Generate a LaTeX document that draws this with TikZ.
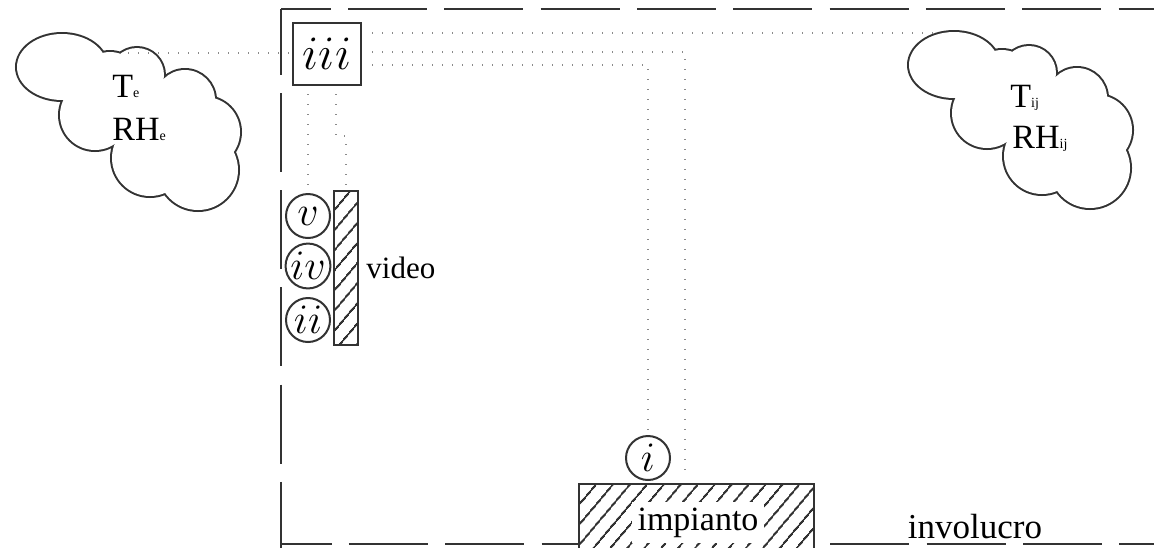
\documentclass[tikz,border=0pt]{standalone}
\usepackage{fix-cm}
\usepackage{fontspec}
\setmainfont{Liberation Serif}
\usetikzlibrary{patterns.meta}
\definecolor{ink}{HTML}{333333}
\definecolor{dotc}{HTML}{8A8A8A}
\newcommand\cloudlobes{62/67/45/33,137/75/27/27,185/100/30/30,205/132/35/35,198/170/40/40,150/158/38/38,95/115/35/35,145/115/40/40,110/82/30/30}
\newcommand\mycloud[2]{%
  \begin{scope}[shift={(#1,#2)}]
    \foreach \cx/\cy/\rx/\ry in \cloudlobes
      \draw[cloudline] (\cx,\cy) ellipse[x radius=\rx, y radius=\ry];
    \foreach \cx/\cy/\rx/\ry in \cloudlobes
      \fill[white] (\cx,\cy) ellipse[x radius=\rx, y radius=\ry];
  \end{scope}}
\begin{document}
\begin{tikzpicture}[x=0.5pt,y=-0.5pt,
  envl/.style={draw=ink, line width=1.4pt},
  dotline/.style={draw=dotc, line width=0.8pt, dash pattern=on 0.6pt off 4.4pt},
  cloudline/.style={draw=ink, line width=2pt},
  frame/.style={draw=ink, line width=1pt},
  hatch/.style={pattern={Lines[angle=50,distance=6.5pt,line width=1pt]}, pattern color=ink},
  roman/.style={font=\fontsize{17}{17}\selectfont, inner sep=0pt},
  ball/.style={circle, frame, minimum size=22pt, inner sep=0pt, font=\fontsize{21}{21}\selectfont},
]
\useasboundingbox (0,0) rectangle (1154,547);
\clip (0,0) rectangle (1154,547);
\fill[white] (0,0) rectangle (1154,547);

% envelope (involucro)
\draw[envl, dash pattern=on 39.5pt off 9.1pt, dash phase=6.6pt] (281,9) -- (281,560);
\draw[envl, dash pattern=on 39.5pt off 8.65pt, dash phase=14.6pt] (281,9) -- (1160,9);
\draw[envl, dash pattern=on 39.5pt off 8.65pt, dash phase=14.2pt] (281,544) -- (1160,544);

% clouds
\mycloud{0}{0}
\mycloud{892}{-2}
\node[roman, anchor=base west] (te) at (112,97) {T{\fontsize{7}{7}\selectfont e}};
\node[roman, anchor=base west] (rhe) at (112,140) {RH{\fontsize{7}{7}\selectfont e}};
\node[roman, anchor=base west] (tij) at (1010,107) {T{\fontsize{7}{7}\selectfont ij}};
\node[roman, anchor=base west] (rhij) at (1012,148) {RH{\fontsize{7}{7}\selectfont ij}};

% instruments
\node[frame, minimum width=34pt, minimum height=31pt, inner sep=0pt, font=\fontsize{24}{24}\selectfont] (iii) at (327,54) {$iii$};
\node[ball] (cv) at (308,216) {$v$};
\node[ball] (civ) at (308,266) {$iv$};
\node[ball] (cii) at (308,320) {$ii$};
\node[frame, hatch, minimum width=12pt, minimum height=77pt, inner sep=0pt] (vid) at (346,268) {};
\node[roman, font=\fontsize{15.5}{15.5}\selectfont, anchor=west] (vlab) at (366,268) {video};

\node[frame, hatch, preaction={fill=white}, minimum width=117.5pt, minimum height=43.5pt, inner sep=0pt, anchor=north] (imp) at (696.5,483) {};
\node[roman, fill=white, inner sep=3pt, anchor=base] (implab) at (698,530) {impianto};
\node[ball] (ci) at (648,458) {$i$};
\node[roman, font=\fontsize{17.5}{17.5}\selectfont, anchor=base] (inv) at (975,538) {involucro};

% dotted connections
\coordinate (cl) at (128,53);
\coordinate (cr) at (940,33);
\coordinate (k2) at (685,52);
\coordinate (k2e) at (685,472);
\coordinate (k3) at (648,65);
\coordinate (j1) at (336,136);
\draw[dotline] (cl) -- (iii.west |- cl);
\draw[dotline, shorten <=5pt] (iii.east |- cr) -- (cr);
\draw[dotline, shorten <=5pt] (iii.east |- k2) -- (k2) -- (k2e);
\draw[dotline, shorten <=5pt] (iii.east |- k3) -- (k3) -- (ci.north);
\draw[dotline, shorten <=4pt] (iii.south -| cv.north) -- (cv.north);
\draw[dotline, shorten <=4pt] (iii.south -| j1) -- (j1) -- (j1 -| vid.north) -- (vid.north);
\end{tikzpicture}
\end{document}
